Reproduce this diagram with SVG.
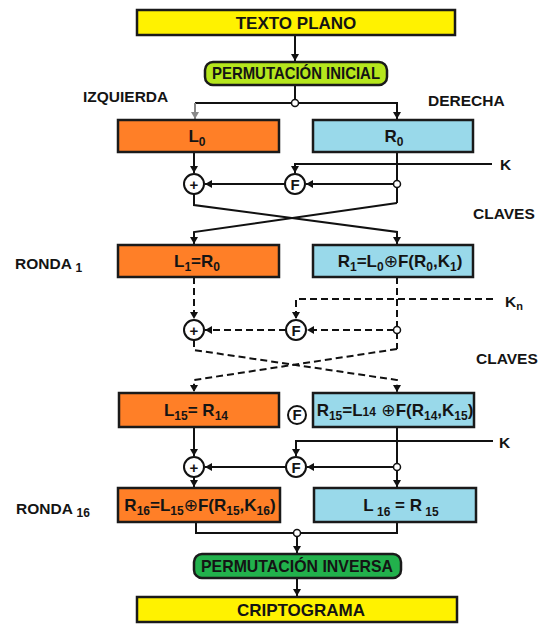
<svg xmlns="http://www.w3.org/2000/svg" width="550" height="624" viewBox="0 0 550 624">
<style>
text{font-family:"Liberation Sans",Arial,sans-serif;font-weight:bold;fill:#141414}
.box{stroke:#1a1a1a;stroke-width:2.5}
.yel{fill:#fff200}
.org{fill:#ff7f27}
.blu{fill:#99d9ea}
.ln{fill:none;stroke:#111;stroke-width:2}
.ds{fill:none;stroke:#111;stroke-width:2;stroke-dasharray:7,4}
.cir{fill:#fff;stroke:#111;stroke-width:2}
.jn{fill:#fff;stroke:#111;stroke-width:1.5}
.bt{font-size:17px;text-anchor:middle}
.lb{font-size:15.5px}
.sub{font-size:12px}
.op{font-family:"DejaVu Sans",sans-serif;font-weight:normal}
.ct{font-size:15px;text-anchor:middle}
</style>
<defs>
<marker id="a" markerUnits="userSpaceOnUse" markerWidth="9" markerHeight="9" refX="7" refY="4.5" orient="auto"><path d="M0,0.5 L7,4.5 L0,8.5 z" fill="#111"/></marker>
<marker id="ag" markerUnits="userSpaceOnUse" markerWidth="9" markerHeight="9" refX="7" refY="4.5" orient="auto"><path d="M0,0.5 L7,4.5 L0,8.5 z" fill="#888"/></marker>
</defs>

<g id="connectors">
<line class="ln" x1="295" y1="35" x2="295" y2="61" marker-end="url(#a)"/>
<line class="ln" x1="295" y1="85" x2="295" y2="100"/>
<polyline class="ln" points="195,103 397,103 397,119" marker-end="url(#a)"/>
<line x1="195" y1="103" x2="195" y2="119" stroke="#888" stroke-width="2" marker-end="url(#ag)"/>
<line class="ln" x1="194" y1="152" x2="194" y2="173" marker-end="url(#a)"/>
<polyline class="ln" points="492,164 295,164 295,173" marker-end="url(#a)"/>
<line class="ln" x1="397" y1="152" x2="397" y2="203"/>
<line class="ln" x1="394" y1="184" x2="306" y2="184" marker-end="url(#a)"/>
<line class="ln" x1="285" y1="184" x2="205" y2="184" marker-end="url(#a)"/>
<polyline class="ln" points="194,194 194,205 397,232 397,244" marker-end="url(#a)"/>
<polyline class="ln" points="397,203 194,232 194,244" marker-end="url(#a)"/>
<line class="ds" x1="194" y1="277" x2="194" y2="319" marker-end="url(#a)"/>
<polyline class="ds" points="493,299 296,299 296,319" marker-end="url(#a)"/>
<line class="ds" x1="397" y1="277" x2="397" y2="349"/>
<line class="ds" x1="394" y1="330" x2="307" y2="330" marker-end="url(#a)"/>
<line class="ds" x1="286" y1="330" x2="205" y2="330" marker-end="url(#a)"/>
<polyline class="ds" points="194,340 194,350 397,380 397,392" marker-end="url(#a)"/>
<polyline class="ds" points="397,349 194,380 194,392" marker-end="url(#a)"/>
<line class="ln" x1="194" y1="427" x2="194" y2="456" marker-end="url(#a)"/>
<polyline class="ln" points="493,441 296,441 296,456" marker-end="url(#a)"/>
<line class="ln" x1="397" y1="427" x2="397" y2="487" marker-end="url(#a)"/>
<line class="ln" x1="394" y1="467" x2="307" y2="467" marker-end="url(#a)"/>
<line class="ln" x1="286" y1="467" x2="205" y2="467" marker-end="url(#a)"/>
<line class="ln" x1="194" y1="477" x2="194" y2="487" marker-end="url(#a)"/>
<polyline class="ln" points="196,522 196,533 397,533 397,522"/>
<line class="ln" x1="297" y1="536" x2="297" y2="553" marker-end="url(#a)"/>
<line class="ln" x1="297" y1="578" x2="297" y2="596" marker-end="url(#a)"/>
</g>

<g id="junctions">
<circle class="jn" cx="295" cy="103" r="3.5"/>
<circle class="jn" cx="397" cy="184" r="3.5"/>
<circle class="jn" cx="397" cy="330" r="3.5"/>
<circle class="jn" cx="397" cy="467" r="3.5"/>
<circle class="jn" cx="297" cy="533" r="3.5"/>
</g>

<g id="texto-plano">
<rect class="box yel" x="137" y="10" width="318" height="25"/>
<text class="bt" x="296" y="28.5" font-size="16">TEXTO PLANO</text>
</g>
<g id="perm-inicial">
<rect class="box" x="205" y="62" width="182" height="23" rx="8" fill="#b5e61d"/>
<text class="bt" x="296" y="79" font-size="15" textLength="168" lengthAdjust="spacingAndGlyphs">PERMUTACIÓN INICIAL</text>
</g>
<g id="L0">
<rect class="box org" x="118" y="120" width="161" height="32"/>
<text class="bt" x="197" y="142" font-size="17">L<tspan class="sub" dy="4" font-size="13">0</tspan></text>
</g>
<g id="R0">
<rect class="box blu" x="313" y="120" width="160" height="32"/>
<text class="bt" x="394" y="142" font-size="17">R<tspan class="sub" dy="4" font-size="13">0</tspan></text>
</g>
<g id="xor1"><circle class="cir" cx="194" cy="184" r="10"/><text class="ct" x="194" y="189.5">+</text></g>
<g id="f1"><circle class="cir" cx="295" cy="184" r="10"/><text class="ct" x="295" y="189.5">F</text></g>
<g id="L1">
<rect class="box org" x="118" y="245" width="161" height="32"/>
<text class="bt" x="197" y="267">L<tspan class="sub" dy="4">1</tspan><tspan dy="-4">=R</tspan><tspan class="sub" dy="4">0</tspan></text>
</g>
<g id="R1">
<rect class="box blu" x="313" y="245" width="160" height="32"/>
<text class="bt" x="400" y="267">R<tspan class="sub" dy="4">1</tspan><tspan dy="-4">=L</tspan><tspan class="sub" dy="4">0</tspan><tspan dy="-4" class="op">⊕</tspan>F(R<tspan class="sub" dy="4">0</tspan><tspan dy="-4">,K</tspan><tspan class="sub" dy="4">1</tspan><tspan dy="-4">)</tspan></text>
</g>
<g id="xorn"><circle class="cir" cx="194" cy="330" r="10"/><text class="ct" x="194" y="335.5">+</text></g>
<g id="fn"><circle class="cir" cx="296" cy="330" r="10"/><text class="ct" x="296" y="335.5">F</text></g>
<g id="L15">
<rect class="box org" x="119" y="393" width="160" height="34"/>
<text class="bt" x="196" y="416">L<tspan class="sub" dy="4">15</tspan><tspan dy="-4">= R</tspan><tspan class="sub" dy="4">14</tspan></text>
</g>
<g id="f15"><circle class="cir" cx="297" cy="415" r="9"/><text class="ct" x="297" y="420" font-size="13">F</text></g>
<g id="R15">
<rect class="box blu" x="313" y="393" width="161" height="34"/>
<text class="bt" x="395" y="416" font-size="15.5">R<tspan class="sub" dy="4">15</tspan><tspan dy="-4">=L</tspan><tspan font-size="12">14</tspan><tspan class="op"> ⊕</tspan>F(R<tspan class="sub" dy="4">14</tspan><tspan dy="-4">,K</tspan><tspan class="sub" dy="4">15</tspan><tspan dy="-4">)</tspan></text>
</g>
<g id="xor16"><circle class="cir" cx="194" cy="467" r="10"/><text class="ct" x="194" y="472.5">+</text></g>
<g id="f16"><circle class="cir" cx="296" cy="467" r="10"/><text class="ct" x="296" y="472.5">F</text></g>
<g id="R16">
<rect class="box org" x="118" y="488" width="162" height="34"/>
<text class="bt" x="200" y="511" font-size="16.5">R<tspan class="sub" dy="4">16</tspan><tspan dy="-4">=L</tspan><tspan class="sub" dy="4">15</tspan><tspan dy="-4" class="op">⊕</tspan>F(R<tspan class="sub" dy="4">15</tspan><tspan dy="-4">,K</tspan><tspan class="sub" dy="4">16</tspan><tspan dy="-4">)</tspan></text>
</g>
<g id="L16">
<rect class="box blu" x="314" y="488" width="162" height="34"/>
<text class="bt" x="401" y="511" font-size="17">L<tspan class="sub" dy="5" font-size="13"> 16</tspan><tspan dy="-5"> =  R</tspan><tspan class="sub" dy="5" font-size="13"> 15</tspan></text>
</g>
<g id="perm-inversa">
<rect class="box" x="194" y="554" width="207" height="24" rx="8" fill="#22b14c"/>
<text class="bt" x="297" y="571.5" font-size="15" textLength="192" lengthAdjust="spacingAndGlyphs">PERMUTACIÓN INVERSA</text>
</g>
<g id="criptograma">
<rect class="box yel" x="137" y="597" width="320" height="25"/>
<text class="bt" x="301" y="615.5" font-size="16.5">CRIPTOGRAMA</text>
</g>

<g id="labels">
<text class="lb" x="83" y="102">IZQUIERDA</text>
<text class="lb" x="428" y="106">DERECHA</text>
<text class="lb" x="500" y="170" font-size="16">K</text>
<text class="lb" x="473" y="219">CLAVES</text>
<text class="lb" x="505" y="307" font-size="16">K<tspan font-size="11" dy="3">n</tspan></text>
<text class="lb" x="476" y="364">CLAVES</text>
<text class="lb" x="499" y="448" font-size="16">K</text>
<text class="lb" x="15" y="269" font-size="16.5">RONDA <tspan font-size="12" dy="3">1</tspan></text>
<text class="lb" x="16" y="514" font-size="16.5">RONDA <tspan font-size="12" dy="3">16</tspan></text>
</g>
</svg>
